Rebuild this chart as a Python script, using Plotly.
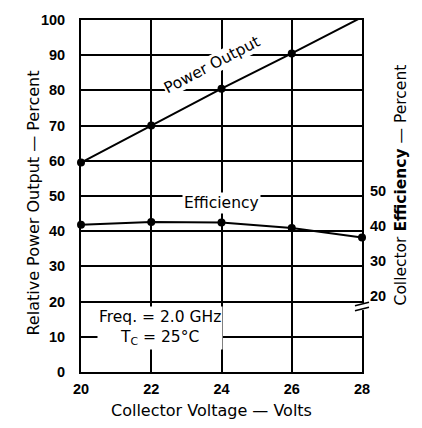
import plotly.graph_objects as go

voltage = [20, 22, 24, 26, 28]
power_output = [59.5, 70, 80.5, 90.5, 100.8]
efficiency = [40.3, 41.1, 41.0, 39.4, 36.7]

x_ticks = [20, 22, 24, 26, 28]
y_ticks = [0, 10, 20, 30, 40, 50, 60, 70, 80, 90, 100]
y2_ticks = [20, 30, 40, 50]

FONT = "Liberation Sans, Arial, sans-serif"
TFONT = "DejaVu Sans, sans-serif"

fig = go.Figure()

fig.add_trace(go.Scatter(
    x=voltage, y=power_output, mode="lines+markers",
    line=dict(color="black", width=2), marker=dict(color="black", size=8),
    cliponaxis=False, showlegend=False, hoverinfo="skip"))

fig.add_trace(go.Scatter(
    x=voltage, y=efficiency, mode="lines+markers", yaxis="y2",
    line=dict(color="black", width=2), marker=dict(color="black", size=8),
    cliponaxis=False, showlegend=False, hoverinfo="skip"))

annotations = [
    dict(text="Power Output", x=23.72, y=87.3, xref="x", yref="y", showarrow=False,
         textangle=-27.6, font=dict(family=TFONT, size=15.5, color="black"),
         bgcolor="white", borderpad=0),
    dict(text="Efficiency", x=24, y=47.9, xref="x", yref="y", showarrow=False,
         font=dict(family=TFONT, size=15.5, color="black"), bgcolor="white", borderpad=1),
    dict(text="Freq. = 2.0 GHz<br>T<sub>C</sub> = 25°C", x=22.25, y=12.5, xref="x", yref="y",
         showarrow=False, align="center",
         font=dict(family=TFONT, size=15.5, color="black"), bgcolor="white", borderpad=1),
    dict(text="Collector Voltage — Volts", x=0.464, y=0, xref="paper", yref="paper",
         yshift=-27, yanchor="top", showarrow=False,
         font=dict(family=TFONT, size=16, color="black")),
    dict(text="Relative Power Output — Percent", x=0, y=0.48, xref="paper", yref="paper",
         xshift=-59, textangle=-90, showarrow=False,
         font=dict(family=TFONT, size=16, color="black")),
    dict(text="Collector <b>Efficiency</b> — Percent", x=1, y=0.53, xref="paper", yref="paper",
         xshift=50, textangle=-90, showarrow=False,
         font=dict(family=TFONT, size=15.5, color="black")),
]

shapes = [
    # axis break on right axis
    dict(type="rect", xref="paper", yref="y", x0=0.99, x1=1.01, y0=17.6, y1=19.6,
         fillcolor="white", line=dict(width=0), layer="above"),
    dict(type="line", xref="paper", yref="y", x0=0.975, x1=1.025, y0=18.8, y1=19.8,
         line=dict(color="black", width=1.5), layer="above"),
    dict(type="line", xref="paper", yref="y", x0=0.975, x1=1.025, y0=17.4, y1=18.4,
         line=dict(color="black", width=1.5), layer="above"),
]

fig.update_layout(
    width=422, height=428,
    margin=dict(l=81, r=60, t=15, b=56),
    plot_bgcolor="white", paper_bgcolor="white",
    font=dict(family=FONT, size=14, color="black"),
    xaxis=dict(range=[20, 28], tickvals=x_ticks, ticktext=[str(v) for v in x_ticks],
               showgrid=True, gridcolor="black", gridwidth=1.5,
               showline=True, linecolor="black", linewidth=2, mirror=True,
               ticks="", ticklabelstandoff=3, zeroline=False,
               tickfont=dict(family=FONT, size=14.5, color="black", weight=600)),
    yaxis=dict(range=[0, 100], tickvals=y_ticks, ticktext=[str(v) for v in y_ticks],
               showgrid=True, gridcolor="black", gridwidth=1.5,
               showline=True, linecolor="black", linewidth=2, mirror=True,
               ticks="", ticklabelstandoff=11, zeroline=False,
               tickfont=dict(family=FONT, size=14.5, color="black", weight=600)),
    yaxis2=dict(range=[-1.5, 98.5], overlaying="y", side="right",
                tickvals=y2_ticks, ticktext=[str(v) for v in y2_ticks],
                showgrid=False, showline=False, zeroline=False, ticks="",
                ticklabelstandoff=7,
                tickfont=dict(family=FONT, size=14.5, color="black", weight=600)),
    annotations=annotations, shapes=shapes,
)

fig.write_html("out.html", config={"displayModeBar": False},
               post_script="document.body.style.margin='0';document.body.style.overflow='hidden';")
